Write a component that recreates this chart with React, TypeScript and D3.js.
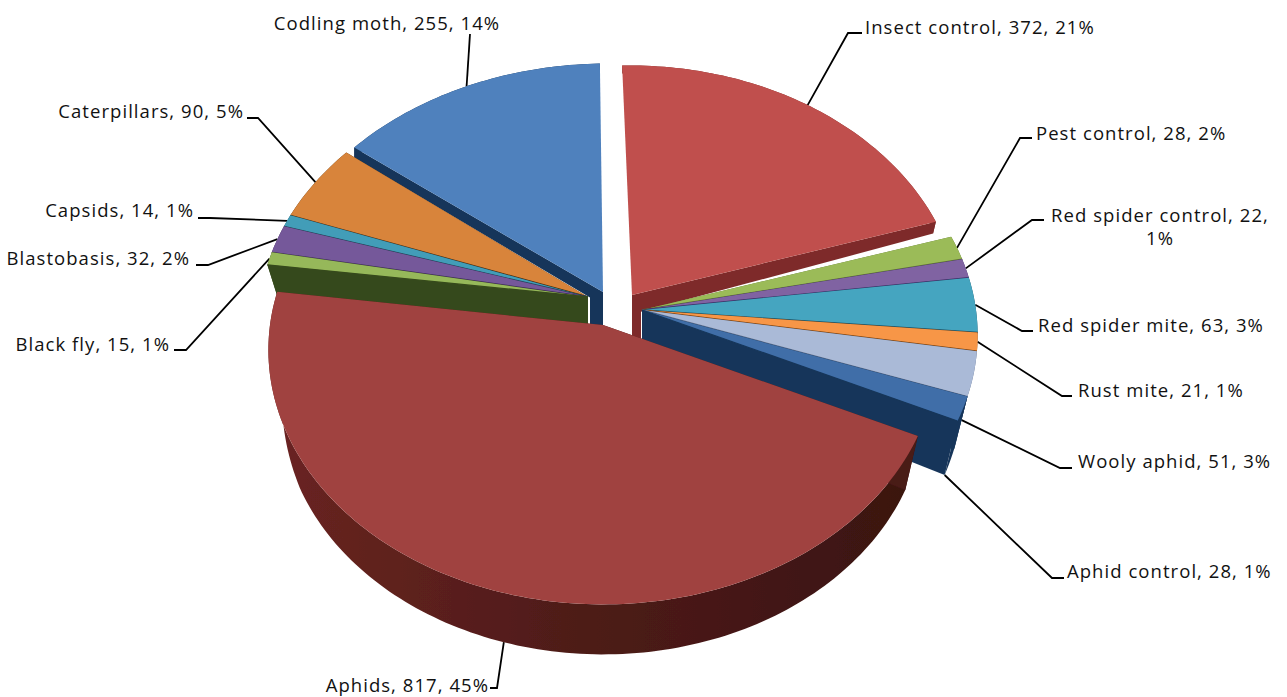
import React from "react";
import * as d3 from "d3";

const categories = ["Insect control","Pest control","Red spider control","Red spider mite","Rust mite","Wooly aphid","Aphid control","Aphids","Black fly","Blastobasis","Capsids","Caterpillars","Codling moth"];
const values = [372,28,22,63,21,51,28,817,15,32,14,90,255];
const percents = [21,2,1,3,1,3,1,45,1,2,1,5,14];
const topColors = ["#c0504d","#9bbb59","#8064a2","#45a5c0","#f79646","#aabad7","#3f6ea8","#a04340","#96b85a","#75589a","#429db8","#d8843a","#4f81bd"];
const wallColors = ["#7e2b29","#5a6e2f","#3d2c66","#1d4d5e","#7a4210","#5d6c88","#17365a","#4a1a17","#364a1b","#3c2a58","#1e4a58","#4a2c10","#17365a"];
const clusters = ["insect","right","right","right","right","right","right","aphids","left","left","left","left","blue"];
const drawOrder = ["Insect control","Codling moth","Pest control","Red spider control","Red spider mite","Rust mite","Wooly aphid","Aphid control","Caterpillars","Capsids","Blastobasis","Black fly","Aphids"];

const centers: Record<string, number[]> = { insect:[630,295,632,295], right:[636,310,642,310], left:[600,298,588,297], blue:[608,293,603,292], aphids:[603,325,603,325] };
const spreads: Record<string, number> = { insect:330, right:340, left:340, blue:340, aphids:333 };
const strips: Record<string, { width: number; kneeDepth: number; edge: string }> = {
  insect: { width: 9, kneeDepth: 19, edge: "end" },
  blue: { width: -13, kneeDepth: 13, edge: "start" },
};
const elbows = [[848,33,862,33],[1020,138,1032,138],[1032,220,1044,220],[1022,331,1033,331],[1062,396,1072,396],[1060,468,1072,468],[1052,578,1064,578],[497,688,490,688],[186,350,174,350],[208,265,196,265],[210,218,198,218],[258,118,247,118],[470,34,470,34]];
const labelPos: [number, number, string][] = [[865,34,"start"],[1036,140,"start"],[1160,222,"middle"],[1038,332,"start"],[1078,397,"start"],[1078,468,"start"],[1067,578,"start"],[489,692,"end"],[170,351,"end"],[190,265,"end"],[194,217,"end"],[244,118,"end"],[387,30,"middle"]];
const leaderSlice = [0,1,2,3,4,6,6,7,8,9,10,11,12];
const leaderFraction = [0.5,0.5,0.5,0.5,0.5,0.9,1,0.5,0.5,0.5,0.5,0.5,0.5];
const leaderLow = [0,0,0,0,0,0,1,1,0,0,0,0,0];

const ROT = (-1.5 * Math.PI) / 180, A = 252, K = 0.098;
const depth = d3.scaleLinear().domain([-1,-0.29,-0.13,0.42,1]).range([8,12,42,54,50]);
const shrink = d3.scaleLinear().domain([-0.35,-0.13]).range([1,0.96]).clamp(true);
const arcs = d3.pie<number>().sort(null).startAngle(ROT).endAngle(ROT + 2 * Math.PI)(values);
const line = d3.line();

function rim(a: number, cl: string, low = false): [number, number] {
  const c = centers[cl], B = spreads[cl];
  const X = Math.sin(a), Y = -Math.cos(a), den = 1 - K * Y;
  const x = (B * X) / den, y = (A * Y) / den;
  return low ? [c[0] + x * shrink(Y), c[1] + y + depth(Y)] : [c[0] + x, c[1] + y];
}

export default function App() {
  const slices = drawOrder.map((name) => {
    const i = categories.indexOf(name), arc = arcs[i], cl = clusters[i], c = centers[cl];
    const n = Math.max(4, Math.ceil((arc.endAngle - arc.startAngle) / 0.02));
    const angs = d3.range(n + 1).map((k) => arc.startAngle + ((arc.endAngle - arc.startAngle) * k) / n);
    const tip: [number, number] = [c[2], c[3]], tipLow: [number, number] = [c[2], c[3] + depth(0)];
    const upper = angs.map((a) => rim(a, cl)), lower = angs.map((a) => rim(a, cl, true));
    const first = upper[0], last = upper[n];
    const edgeWall = (corner: [number, number], cornerLow: [number, number], edge: string) => {
      const s = strips[cl];
      if (!s) return [tip, corner, cornerLow, tipLow] as [number, number][];
      if (s.edge !== edge) return null;
      const t = s.width / (corner[0] - tip[0]);
      const knee: [number, number] = [tip[0] + s.width, tip[1] + (corner[1] - tip[1]) * t + s.kneeDepth];
      return [tip, corner, cornerLow, knee, [tip[0] + s.width, tipLow[1]], tipLow] as [number, number][];
    };
    const wallA = edgeWall(first, lower[0], "start"), wallB = edgeWall(last, lower[n], "end");
    return (
      <g key={name}>
        <path d={line([...upper, ...[...lower].reverse()])! + "Z"} fill={name === "Aphids" ? "url(#aphidWall)" : wallColors[i]} />
        {wallA ? <path d={line(wallA)! + "Z"} fill={wallColors[i]} /> : null}
        {wallB ? <path d={line(wallB)! + "Z"} fill={wallColors[i]} /> : null}
        <path d={line([tip, ...upper])! + "Z"} fill={topColors[i]} />
        {cl === "right" || cl === "left" ? <path d={line(cl === "right" ? [tip, last] : [tip, first])!} stroke={wallColors[i]} strokeWidth={1.3} fill="none" /> : null}
      </g>
    );
  });
  const leaders = categories.map((name, i) => {
    const s = leaderSlice[i], arc = arcs[s];
    const a = arc.startAngle + (arc.endAngle - arc.startAngle) * leaderFraction[i];
    const start = rim(a, clusters[s], leaderLow[i] === 1);
    const e = elbows[i];
    return <path key={name} d={line([start, [e[0], e[1]], [e[2], e[3]]])!} fill="none" stroke="#000" strokeWidth={1.8} />;
  });
  const labels = categories.map((name, i) => {
    const [x, y, anchor] = labelPos[i];
    const txt = `${name}, ${values[i]}, ${percents[i]}%`;
    if (name === "Red spider control") {
      return (
        <text key={name} x={x} y={y} textAnchor="middle">
          <tspan x={x}>{`${name}, ${values[i]},`}</tspan>
          <tspan x={x} dy={23}>{`${percents[i]}%`}</tspan>
        </text>
      );
    }
    return <text key={name} x={x} y={y} textAnchor={anchor}>{txt}</text>;
  });
  return (
    <svg width={1287} height={697} style={{ position: "absolute", left: 0, top: 0, background: "#fff" }} fontFamily="'Open Sans', sans-serif" fontSize={18.5} letterSpacing={1.05} fill="#111">
      <defs>
        <linearGradient id="aphidWall" gradientUnits="userSpaceOnUse" x1={270} x2={920} y1={0} y2={0}>
          <stop offset="0" stopColor="#6a2421" />
          <stop offset="0.45" stopColor="#4f1c19" />
          <stop offset="1" stopColor="#3a1310" />
        </linearGradient>
        <filter id="soft"><feGaussianBlur stdDeviation={0.5} /></filter>
      </defs>
      <g>{leaders}</g>
      <g filter="url(#soft)">{slices}</g>
      <g>{labels}</g>
    </svg>
  );
}
